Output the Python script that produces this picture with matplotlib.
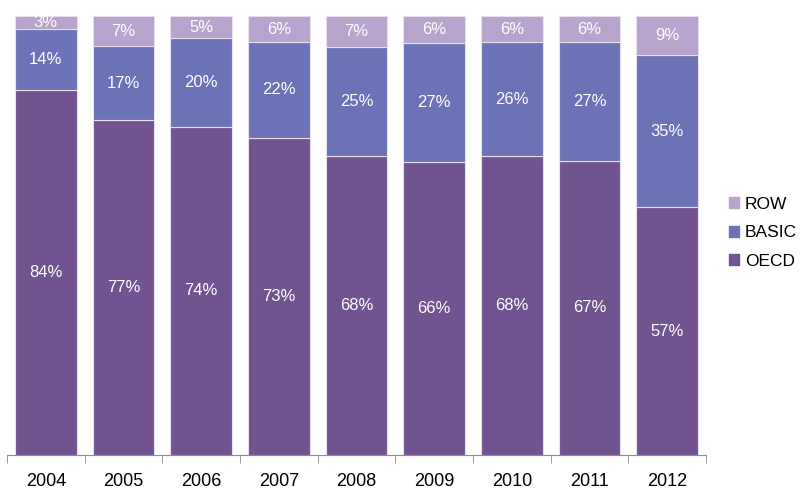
import matplotlib
matplotlib.use("Agg")
import matplotlib.pyplot as plt
import numpy as np
from matplotlib.patches import Patch

plt.rcParams['font.family'] = ['Liberation Sans', 'DejaVu Sans']

years = ["2004", "2005", "2006", "2007", "2008", "2009", "2010", "2011", "2012"]
oecd = [84, 77, 74, 73, 68, 66, 68, 67, 57]
basic = [14, 17, 20, 22, 25, 27, 26, 27, 35]
row = [3, 7, 5, 6, 7, 6, 6, 6, 9]

series = [("OECD", oecd, "#71548F"), ("BASIC", basic, "#6B72B5"), ("ROW", row, "#B7A3CC")]

fig = plt.figure(figsize=(8.02, 4.91), dpi=100)
ax = fig.add_axes([7/802, 36/491, 699/802, 439/491])

x = np.arange(len(years))
totals = np.array(oecd) + np.array(basic) + np.array(row)
bottom = np.zeros(len(years))
for name, vals, col in series:
    frac = np.array(vals) / totals
    ax.bar(x, frac, 0.79, bottom=bottom, color=col, edgecolor="#E6E0EE", linewidth=0.8)
    for xi, b, f, v in zip(x, bottom, frac, vals):
        ax.text(xi, b + f / 2, f"{v}%", ha="center", va="center", color="white", fontsize=12)
    bottom += frac

ax.set_xlim(-0.5, len(years) - 0.5)
ax.set_ylim(0, 1)
ax.set_yticks([])
for s in ["top", "right", "left"]:
    ax.spines[s].set_visible(False)
ax.spines["bottom"].set_color("#8C8C8C")
ax.set_xticks(x)
ax.set_xticklabels(years, fontsize=13)
ax.tick_params(axis="x", which="major", length=0, pad=13)
ax.set_xticks(np.arange(-0.5, len(years)), minor=True)
ax.tick_params(axis="x", which="minor", length=6, color="#8C8C8C")

handles = [Patch(color=c, label=n) for n, _, c in reversed(series)]
fig.legend(handles=handles, loc="center left", bbox_to_anchor=(729/802, 1 - 233/491),
           frameon=False, fontsize=12.5, handlelength=0.6, handleheight=0.6,
           handletextpad=0.3, labelspacing=0.78, borderpad=0, borderaxespad=0)

fig.savefig("out.png", dpi=100)
